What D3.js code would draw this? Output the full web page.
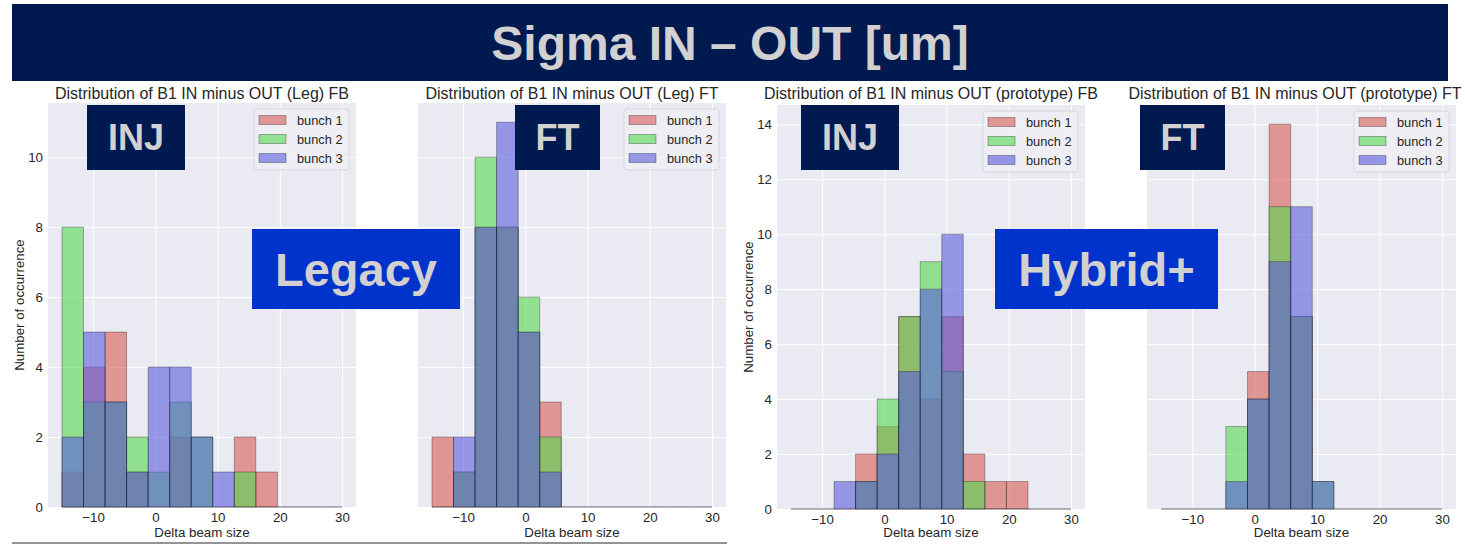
<!DOCTYPE html>
<html>
<head>
<meta charset="utf-8">
<script src="https://cdn.jsdelivr.net/npm/d3@7"></script>
<style>
  body{margin:0;background:#fff}
  svg{display:block;font-family:"Liberation Sans",Arial,sans-serif}
</style>
</head>
<body>
<svg id="chart" width="1465" height="545"></svg>
<script>
  // histogram bins (13 bins from -15 to 30), shared by all panels
  var binEdges = [-15, -11.54, -8.08, -4.62, -1.15, 2.31, 5.77, 9.23, 12.69, 16.15, 19.62, 23.08, 26.54, 30];
  var xTicks   = [-10, 0, 10, 20, 30];
  var bunches  = ['bunch 1', 'bunch 2', 'bunch 3'];

  // counts per bin, legacy FB
  var legFB1 = [1, 4, 5, 1, 0, 2, 0, 0, 2, 1, 0, 0, 0];
  var legFB2 = [8, 3, 3, 2, 1, 3, 2, 0, 1, 0, 0, 0, 0];
  var legFB3 = [2, 5, 3, 1, 4, 4, 2, 1, 0, 0, 0, 0, 0];

  // legacy FT
  var legFT1 = [2, 1, 8, 8, 5, 3, 0, 0, 0, 0, 0, 0, 0];
  var legFT2 = [0, 1, 10, 8, 6, 2, 0, 0, 0, 0, 0, 0, 0];
  var legFT3 = [0, 2, 8, 11, 5, 1, 0, 0, 0, 0, 0, 0, 0];

  // prototype FB
  var proFB1 = [0, 0, 0, 2, 3, 7, 4, 7, 2, 1, 1, 0, 0];
  var proFB2 = [0, 0, 0, 1, 4, 7, 9, 5, 1, 0, 0, 0, 0];
  var proFB3 = [0, 0, 1, 1, 2, 5, 8, 10, 0, 0, 0, 0, 0];

  // prototype FT
  var proFT1 = [0, 0, 0, 0, 5, 14, 7, 0, 0, 0, 0, 0, 0];
  var proFT2 = [0, 0, 0, 3, 4, 11, 7, 1, 0, 0, 0, 0, 0];
  var proFT3 = [0, 0, 0, 1, 4, 9, 11, 1, 0, 0, 0, 0, 0];

  var legYTicks = [0, 2, 4, 6, 8, 10];
  var proYTicks = [0, 2, 4, 6, 8, 10, 12, 14];

  // styles
  var bunchColors = ['rgb(217,92,87)', 'rgb(84,217,79)', 'rgb(91,91,222)'],
      barAlpha = 0.6,
      navy    = '#001a4f',
      royal   = '#0033cc',
      boxText = '#d2d0d0',
      ink     = '#262626',
      plotBg  = '#eaeaf2';

  var panels = [
    {title: 'Distribution of B1 IN minus OUT (Leg) FB', counts: [legFB1, legFB2, legFB3],
     left: 48, right: 356, top: 103, bottom: 507, yMax: 11.55, yTicks: legYTicks, yLabels: true, titleX: 202},
    {title: 'Distribution of B1 IN minus OUT (Leg) FT', counts: [legFT1, legFT2, legFT3],
     left: 418, right: 726, top: 103, bottom: 507, yMax: 11.55, yTicks: legYTicks, yLabels: false, titleX: 572},
    {title: 'Distribution of B1 IN minus OUT (prototype) FB', counts: [proFB1, proFB2, proFB3],
     left: 777, right: 1085, top: 105, bottom: 509, yMax: 14.7, yTicks: proYTicks, yLabels: true, titleX: 931},
    {title: 'Distribution of B1 IN minus OUT (prototype) FT', counts: [proFT1, proFT2, proFT3],
     left: 1147, right: 1456, top: 105, bottom: 509, yMax: 14.7, yTicks: proYTicks, yLabels: false, titleX: 1295}
  ];

  var svg = d3.select('#chart');

  svg.append('rect').attr('width', 1465).attr('height', 545).attr('fill', '#fff');

  // ** panels **
  panels.forEach(function(p){
    var x = d3.scaleLinear().domain([-17.25, 32.25]).range([p.left, p.right]),
        y = d3.scaleLinear().domain([0, p.yMax]).range([p.bottom, p.top]),
        w = p.right - p.left,
        h = p.bottom - p.top;

    var g = svg.append('g');

    g.append('rect')
      .attr('x', p.left).attr('y', p.top)
      .attr('width', w).attr('height', h)
      .attr('fill', plotBg);

    // axes double as the white grid
    var xAxis = g.append('g')
      .attr('transform', 'translate(0,' + p.bottom + ')')
      .call(d3.axisBottom(x).tickValues(xTicks).tickSizeInner(-h).tickSizeOuter(0).tickPadding(6));

    var yAxis = g.append('g')
      .attr('transform', 'translate(' + p.left + ',0)')
      .call(d3.axisLeft(y).tickValues(p.yTicks).tickSizeInner(-w).tickSizeOuter(0).tickPadding(5)
        .tickFormat(p.yLabels ? d3.format('d') : function(){ return '' }));

    [xAxis, yAxis].forEach(function(a){
      a.select('.domain').remove();
      a.selectAll('.tick line').attr('stroke', '#fff').attr('stroke-width', 1);
      a.selectAll('.tick text')
        .attr('fill', ink)
        .style('font-family', '"Liberation Sans",Arial,sans-serif')
        .style('font-size', '13.3px');
    });

    // bars: one layer per bunch, drawn on top of each other
    bunches.forEach(function(name, i){
      g.append('g').selectAll('path')
        .data(p.counts[i])
        .join('path')
        .attr('d', function(c, j){
          var x0 = x(binEdges[j]), x1 = x(binEdges[j + 1]),
              y0 = y(0), y1 = y(c);
          return 'M' + x0 + ',' + y0 + 'V' + y1 + 'H' + x1 + 'V' + y0 + 'Z';
        })
        .attr('fill', bunchColors[i])
        .attr('fill-opacity', barAlpha)
        .attr('stroke', '#000')
        .attr('stroke-opacity', function(c){ return c ? 0.3 : 0.1 })
        .attr('stroke-width', 1);
    });

    // title
    g.append('text')
      .attr('x', p.titleX).attr('y', 99)
      .attr('text-anchor', 'middle')
      .attr('fill', ink)
      .style('font-size', '16px')
      .text(p.title);

    // x label
    g.append('text')
      .attr('x', (p.left + p.right) / 2).attr('y', 537)
      .attr('text-anchor', 'middle')
      .attr('fill', ink)
      .style('font-size', '13.3px')
      .text('Delta beam size');

    // y label
    if(p.yLabels){
      var cy = (p.top + p.bottom) / 2;
      g.append('text')
        .attr('transform', 'translate(' + (p.left - 24) + ',' + cy + ') rotate(-90)')
        .attr('text-anchor', 'middle')
        .attr('fill', ink)
        .style('font-size', '13.3px')
        .text('Number of occurrence');
    }

    // legend
    var lx = p.right - 102, ly = p.top + 6;
    var lg = g.append('g').attr('transform', 'translate(' + lx + ',' + ly + ')');
    lg.append('rect')
      .attr('width', 95).attr('height', 61).attr('rx', 3)
      .attr('fill', '#eeeef4').attr('fill-opacity', 0.9)
      .attr('stroke', '#d6d6de');
    bunches.forEach(function(name, i){
      var ry = 11 + i * 19;
      lg.append('rect')
        .attr('x', 5).attr('y', ry - 4.5)
        .attr('width', 27).attr('height', 9)
        .attr('fill', bunchColors[i]).attr('fill-opacity', barAlpha)
        .attr('stroke', '#000').attr('stroke-opacity', 0.3);
      lg.append('text')
        .attr('x', 43).attr('y', ry + 4.5)
        .attr('fill', ink)
        .style('font-size', '12.8px')
        .text(name);
    });
  });

  // ** slide decoration **

  // banner
  svg.append('rect')
    .attr('x', 12).attr('y', 4).attr('width', 1436).attr('height', 77)
    .attr('fill', navy);
  svg.append('text')
    .attr('x', 730).attr('y', 60)
    .attr('text-anchor', 'middle')
    .attr('fill', boxText)
    .style('font-size', '48px').style('font-weight', 'bold')
    .text('Sigma IN \u2013 OUT [um]');

  // label boxes
  var boxes = [
    {text: 'INJ',     x: 87,   y: 105, w: 98,  h: 65, fill: navy,  size: 36},
    {text: 'FT',      x: 515,  y: 105, w: 85,  h: 65, fill: navy,  size: 36},
    {text: 'Legacy',  x: 252,  y: 229, w: 208, h: 80, fill: royal, size: 47},
    {text: 'INJ',     x: 801,  y: 105, w: 98,  h: 65, fill: navy,  size: 36},
    {text: 'FT',      x: 1140, y: 105, w: 85,  h: 65, fill: navy,  size: 36},
    {text: 'Hybrid+', x: 995,  y: 229, w: 223, h: 80, fill: royal, size: 47}
  ];

  var bg = svg.append('g').selectAll('g').data(boxes).join('g');
  bg.append('rect')
    .attr('x', function(d){ return d.x })
    .attr('y', function(d){ return d.y })
    .attr('width', function(d){ return d.w })
    .attr('height', function(d){ return d.h })
    .attr('fill', function(d){ return d.fill });
  bg.append('text')
    .attr('x', function(d){ return d.x + d.w / 2 })
    .attr('y', function(d){ return d.y + d.h / 2 + d.size * 0.36 })
    .attr('text-anchor', 'middle')
    .attr('fill', boxText)
    .style('font-weight', 'bold')
    .style('font-size', function(d){ return d.size + 'px' })
    .text(function(d){ return d.text });

  // rule under the legacy panels
  svg.append('line')
    .attr('x1', 12).attr('x2', 727).attr('y1', 543).attr('y2', 543)
    .attr('stroke', '#707070').attr('stroke-width', 1.5);
</script>
</body>
</html>
